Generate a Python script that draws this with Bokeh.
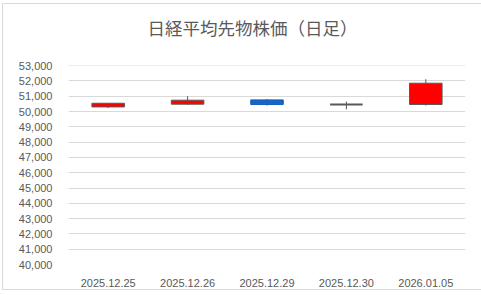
from bokeh.plotting import figure
from bokeh.models import ColumnDataSource, FactorRange, Range1d, FixedTicker, NumeralTickFormatter, Title
from bokeh.embed import file_html
from bokeh.resources import INLINE

title_text = "日経平均先物株価（日足）"
dates = ["2025.12.25", "2025.12.26", "2025.12.29", "2025.12.30", "2026.01.05"]
open_ = [50300, 50480, 50760, 50460, 50460]
high = [50540, 51000, 50820, 50650, 52110]
low = [50230, 50430, 50390, 50140, 50390]
close = [50540, 50740, 50460, 50460, 51850]
y_ticks = [40000, 41000, 42000, 43000, 44000, 45000, 46000, 47000, 48000,
           49000, 50000, 51000, 52000, 53000]

GRAY = "#595959"
RED = "#FF0000"
BLUE = "#1766C6"


def subset(mask):
    return ColumnDataSource(dict(
        x=[d for d, m in zip(dates, mask) if m],
        top=[max(o, c) for o, c, m in zip(open_, close, mask) if m],
        bottom=[min(o, c) for o, c, m in zip(open_, close, mask) if m],
    ))


up = [c > o for o, c in zip(open_, close)]
down = [c < o for o, c in zip(open_, close)]
flat = [c == o for o, c in zip(open_, close)]

p = figure(
    width=478, height=285,
    x_range=FactorRange(*dates),
    y_range=Range1d(y_ticks[0], y_ticks[-1] + 8),
    output_backend="svg", toolbar_location=None,
    min_border_left=65, min_border_right=16, min_border_top=61, min_border_bottom=25,
    styles={"margin-left": "3px", "margin-top": "4px", "outline": "1px solid #d9d9d9"},
)
p.outline_line_color = None
p.background_fill_color = "white"
p.border_fill_color = "white"

# spacer between the frame and the title
p.add_layout(Title(text=" ", text_font_size="1px", standoff=18), "above")

p.title.text = title_text
p.title.align = "left"
p.title.offset = 79
p.title.standoff = 10
p.title.text_font = "Noto Sans CJK JP"
p.title.text_font_size = "17.5px"
p.title.text_font_style = "normal"
p.title.text_color = GRAY

p.xgrid.grid_line_color = None
p.ygrid.grid_line_color = "#d9d9d9"
p.ygrid.grid_line_width = 1

p.yaxis.ticker = FixedTicker(ticks=y_ticks)
p.yaxis.formatter = NumeralTickFormatter(format="0,0")
for ax in (p.xaxis, p.yaxis):
    ax.axis_line_color = None
    ax.major_tick_line_color = None
    ax.minor_tick_line_color = None
    ax.major_label_text_font = "Liberation Sans"
    ax.major_label_text_font_size = "11px"
    ax.major_label_text_color = GRAY
p.yaxis.major_label_standoff = 10
p.xaxis.major_label_standoff = 8

wick = ColumnDataSource(dict(x=dates, high=high, low=low))
p.segment(x0="x", y0="low", x1="x", y1="high", source=wick, line_color=GRAY, line_width=1)

p.vbar(x="x", width=0.41, top="top", bottom="bottom", source=subset(up),
       fill_color=RED, line_color=GRAY, line_width=1)
p.vbar(x="x", width=0.41, top="top", bottom="bottom", source=subset(down),
       fill_color=BLUE, line_color="#1560BD", line_width=1)
p.vbar(x="x", width=0.41, top="top", bottom="bottom", source=subset(flat),
       fill_color=None, line_color=GRAY, line_width=2)

open("out.html", "w").write(file_html(p, INLINE))
